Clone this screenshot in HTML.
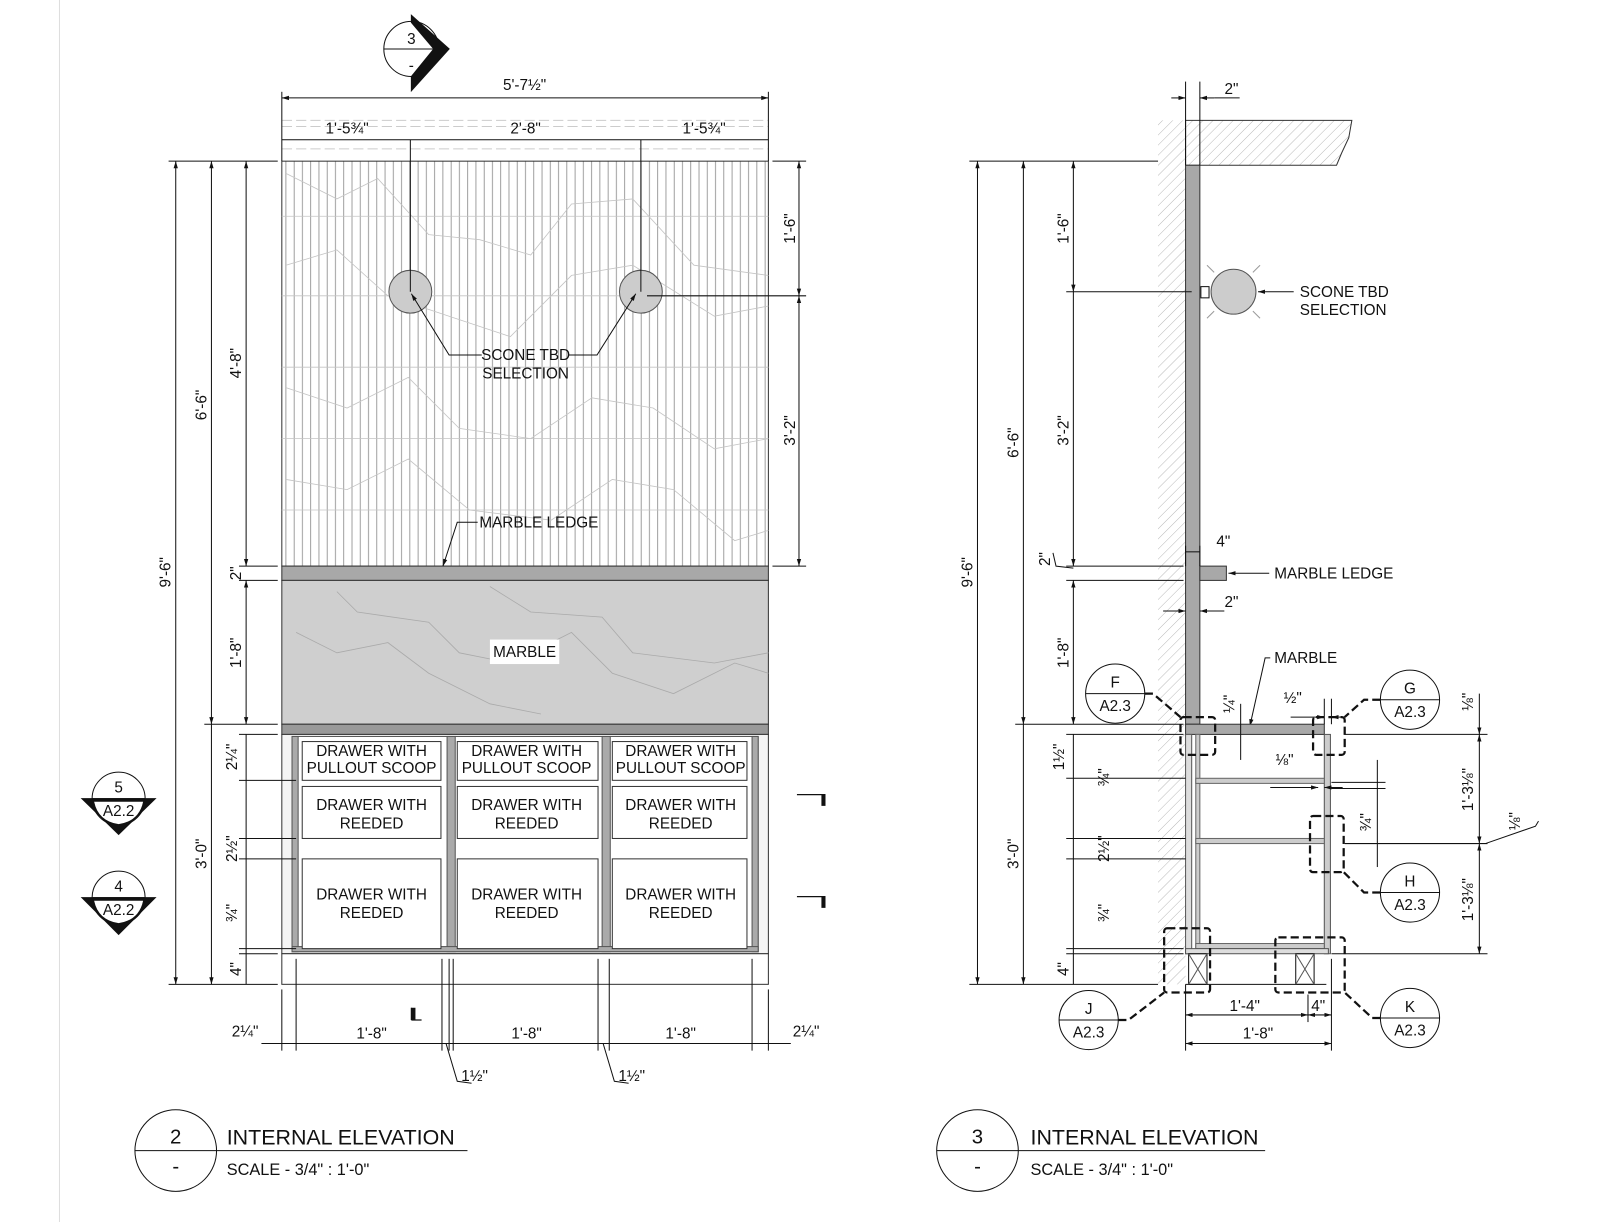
<!DOCTYPE html>
<html><head><meta charset="utf-8"><style>html,body{margin:0;padding:0;background:#fff}svg{display:block}text{font-family:"Liberation Sans",sans-serif;fill:#111}</style></head><body>
<svg width="1600" height="1222" viewBox="0 0 1568 1198" xmlns="http://www.w3.org/2000/svg">
<defs>
<pattern id="reed" width="8.1" height="40" patternUnits="userSpaceOnUse" x="276"><line x1="4" y1="0" x2="4" y2="40" stroke="#888" stroke-width="0.8"/></pattern>
<pattern id="hatch" width="7" height="7" patternUnits="userSpaceOnUse" patternTransform="rotate(45)"><line x1="0" y1="0" x2="0" y2="7" stroke="#aaa" stroke-width="0.8"/></pattern>
<marker id="a" viewBox="0 0 10 10" refX="10" refY="5" markerWidth="7" markerHeight="7" orient="auto-start-reverse"><path d="M0,2 L10,5 L0,8z" fill="#111"/></marker>
</defs>
<line x1="58" y1="0" x2="58" y2="1198" stroke="#ddd"/>
<g stroke="#111" stroke-width="1" fill="none">
<!-- LEFT ELEVATION -->
<rect x="276" y="158" width="477" height="397" fill="url(#reed)" stroke="#333"/>
<g stroke="#c4c4c4" stroke-width="0.8">
<line x1="276" y1="212" x2="753" y2="212"/><line x1="276" y1="290" x2="753" y2="290"/><line x1="276" y1="360" x2="753" y2="360"/><line x1="276" y1="430" x2="753" y2="430"/><line x1="276" y1="500" x2="753" y2="500"/>
<polyline points="280,170 330,195 370,175 420,230 470,235 520,250 560,200 620,195 680,260 753,270"/>
<polyline points="280,260 330,245 380,290 440,310 500,330 560,270 620,260 700,310 753,300"/>
<polyline points="280,380 340,400 400,370 450,420 520,430 580,390 640,400 700,440 753,430"/>
<polyline points="280,470 340,480 400,450 460,500 540,510 600,470 660,480 720,530 753,520"/>
</g>
<g stroke="#ccc" stroke-dasharray="10,4"><line x1="276" y1="118" x2="753" y2="118"/><line x1="276" y1="124" x2="753" y2="124"/><line x1="276" y1="146" x2="753" y2="146"/></g>
<rect x="276" y="555" width="477" height="14" fill="#a8a8a8" stroke="#333"/>
<rect x="276" y="569" width="477" height="141" fill="#cfcfcf" stroke="#333"/>
<g stroke="#aaa" stroke-width="0.8"><polyline points="330,580 350,600 420,610 450,640 500,650 560,620 600,660 660,680 720,650 753,660"/><polyline points="290,620 330,640 380,630 420,660 480,690 530,700"/><polyline points="480,575 520,600 590,605 620,640 700,650 753,640"/></g>
<rect x="480" y="627" width="68" height="24" fill="#fff" stroke="none"/>
<rect x="276" y="710" width="477" height="10" fill="#999" stroke="#333"/>
<rect x="276" y="720" width="477" height="215" fill="#f4f4f4" stroke="#333"/>
<rect x="286" y="722" width="457" height="211" fill="#fff" stroke="#555"/>
<g fill="#aaa" stroke="#555"><rect x="286" y="722" width="6" height="211"/><rect x="438" y="722" width="8" height="211"/><rect x="590" y="722" width="8" height="211"/><rect x="737" y="722" width="6" height="211"/><rect x="286" y="928" width="457" height="5"/></g>
<g fill="#fff" stroke="#333">
<rect x="296" y="727" width="136" height="38"/><rect x="448" y="727" width="138" height="38"/><rect x="600" y="727" width="132" height="38"/>
<rect x="296" y="771" width="136" height="51"/><rect x="448" y="771" width="138" height="51"/><rect x="600" y="771" width="132" height="51"/>
<rect x="296" y="842" width="136" height="88"/><rect x="448" y="842" width="138" height="88"/><rect x="600" y="842" width="132" height="88"/>
</g>
<rect x="276" y="935" width="477" height="30" fill="#fff" stroke="#333"/>
<circle cx="402" cy="286" r="21" fill="#ccc" stroke="#555"/><circle cx="628" cy="286" r="21" fill="#ccc" stroke="#555"/>
<line x1="402" y1="137" x2="402" y2="286"/><line x1="628" y1="137" x2="628" y2="286"/>
<line x1="634" y1="290" x2="790" y2="290"/>
<polyline points="472,348 440,348 403,288" marker-end="url(#a)"/>
<polyline points="557,348 585,348 623,288" marker-end="url(#a)"/>
<polyline points="468,512 448,512 434,555" marker-end="url(#a)"/>
<!-- dims left -->
<line x1="276" y1="96" x2="753" y2="96" marker-start="url(#a)" marker-end="url(#a)"/>
<line x1="276" y1="90" x2="276" y2="158"/><line x1="753" y1="90" x2="753" y2="158"/>
<line x1="276" y1="137" x2="753" y2="137"/>
<line x1="165" y1="158" x2="272" y2="158"/><line x1="165" y1="965" x2="272" y2="965"/>
<line x1="172" y1="158" x2="172" y2="965" marker-start="url(#a)" marker-end="url(#a)"/>
<line x1="207" y1="158" x2="207" y2="710" marker-start="url(#a)" marker-end="url(#a)"/>
<line x1="207" y1="710" x2="207" y2="965" marker-end="url(#a)"/>
<line x1="241" y1="158" x2="241" y2="555" marker-start="url(#a)" marker-end="url(#a)"/>
<line x1="241" y1="569" x2="241" y2="710" marker-start="url(#a)" marker-end="url(#a)"/>
<line x1="241" y1="720" x2="241" y2="965"/>
<g><line x1="234" y1="555" x2="272" y2="555"/><line x1="234" y1="569" x2="272" y2="569"/><line x1="200" y1="710" x2="272" y2="710"/><line x1="234" y1="720" x2="272" y2="720"/><line x1="234" y1="765" x2="290" y2="765"/><line x1="234" y1="822" x2="290" y2="822"/><line x1="234" y1="842" x2="290" y2="842"/><line x1="234" y1="930" x2="290" y2="930"/><line x1="234" y1="935" x2="272" y2="935"/></g>
<line x1="757" y1="158" x2="790" y2="158"/><line x1="757" y1="555" x2="790" y2="555"/>
<line x1="783" y1="158" x2="783" y2="290" marker-start="url(#a)" marker-end="url(#a)"/>
<line x1="783" y1="290" x2="783" y2="555" marker-start="url(#a)" marker-end="url(#a)"/>
<line x1="256" y1="1023" x2="775" y2="1023"/>
<g><line x1="276" y1="970" x2="276" y2="1030"/><line x1="290" y1="940" x2="290" y2="1030"/><line x1="440" y1="940" x2="440" y2="1030"/><line x1="444" y1="940" x2="444" y2="1030"/><line x1="433" y1="940" x2="433" y2="1030"/><line x1="586" y1="940" x2="586" y2="1030"/><line x1="597" y1="940" x2="597" y2="1030"/><line x1="737" y1="940" x2="737" y2="1030"/><line x1="753" y1="970" x2="753" y2="1030"/></g>
<polyline points="437,1023 448,1060 462,1062"/><polyline points="591,1023 602,1060 616,1062"/>
<path d="M781 779 H809 M781 879 H809 M403 1000 H413 M403 988 V1000" stroke-width="1.2"/>
<path d="M807 779 v11 M807 879 v11 M405 988 v12" stroke-width="4"/>
<!-- markers -->
<circle cx="403" cy="48" r="27"/><line x1="376" y1="48" x2="430" y2="48"/>
<path d="M403 15 L440 48 L403 89 L403 75 L425 48 L403 22z" fill="#111"/>
<circle cx="116" cy="783" r="26"/><line x1="90" y1="783" x2="142" y2="783"/>
<path d="M80 783 H152 L116 818z" fill="#111"/><path d="M92 786 H140 Q136 805 116 808 Q96 805 92 786z" fill="#fff" stroke="none"/>
<circle cx="116" cy="880" r="26"/><line x1="90" y1="880" x2="142" y2="880"/>
<path d="M80 880 H152 L116 916z" fill="#111"/><path d="M92 883 H140 Q136 902 116 905 Q96 902 92 883z" fill="#fff" stroke="none"/>
<circle cx="172" cy="1128" r="40"/><line x1="132" y1="1128" x2="458" y2="1128"/>
<circle cx="958" cy="1128" r="40"/><line x1="918" y1="1128" x2="1240" y2="1128"/>
<!-- RIGHT SECTION -->
<rect x="1135" y="118" width="27" height="847" fill="url(#hatch)" stroke="none"/>
<path d="M1162 118 H1325 L1322 135 L1315 150 L1310 162 H1162z" fill="url(#hatch)" stroke="#333"/>
<rect x="1162" y="162" width="14" height="548" fill="#a8a8a8" stroke="#333"/>
<line x1="1162" y1="80" x2="1162" y2="162"/><line x1="1176" y1="80" x2="1176" y2="162"/>
<line x1="1148" y1="96" x2="1162" y2="96" marker-end="url(#a)"/><line x1="1190" y1="96" x2="1176" y2="96" marker-end="url(#a)"/><line x1="1190" y1="96" x2="1215" y2="96"/>
<line x1="950" y1="158" x2="1135" y2="158"/>
<circle cx="1209" cy="286" r="22" fill="#ccc" stroke="#555"/><rect x="1177" y="281" width="8" height="11" fill="#fff"/>
<g stroke="#999"><line x1="1190" y1="267" x2="1183" y2="260"/><line x1="1228" y1="267" x2="1235" y2="260"/><line x1="1190" y1="305" x2="1183" y2="312"/><line x1="1228" y1="305" x2="1235" y2="312"/></g>
<line x1="1268" y1="286" x2="1233" y2="286" marker-end="url(#a)"/>
<line x1="1045" y1="286" x2="1168" y2="286"/>
<rect x="1176" y="555" width="26" height="14" fill="#a8a8a8" stroke="#333"/>
<line x1="1244" y1="562" x2="1204" y2="562" marker-end="url(#a)"/>
<line x1="1045" y1="555" x2="1160" y2="555"/><line x1="1045" y1="569" x2="1160" y2="569"/>
<line x1="1162" y1="541" x2="1176" y2="541"/><line x1="1176" y1="535" x2="1176" y2="555"/><line x1="1162" y1="535" x2="1162" y2="555"/>
<line x1="1140" y1="599" x2="1162" y2="599" marker-end="url(#a)"/><line x1="1200" y1="599" x2="1176" y2="599" marker-end="url(#a)"/>
<polyline points="1245,645 1240,645 1225,712" marker-end="url(#a)"/>
<!-- cabinet -->
<rect x="1162" y="710" width="136" height="10" fill="#a8a8a8" stroke="#333"/>
<rect x="1162" y="720" width="6" height="215" fill="#ddd" stroke="#555"/>
<rect x="1298" y="720" width="6" height="215" fill="#ccc" stroke="#555"/>
<rect x="1172" y="720" width="4" height="210" fill="#ccc" stroke="#666"/>
<rect x="1172" y="763" width="126" height="5" fill="#ccc" stroke="#666"/>
<rect x="1172" y="822" width="126" height="5" fill="#ccc" stroke="#666"/>
<rect x="1172" y="925" width="126" height="5" fill="#ccc" stroke="#666"/>
<rect x="1162" y="930" width="140" height="5" fill="#ddd" stroke="#555"/>
<line x1="1162" y1="965" x2="1300" y2="965"/>
<rect x="1165" y="935" width="18" height="30"/><path d="M1165 935 L1183 965 M1183 935 L1165 965" stroke="#555"/>
<rect x="1270" y="935" width="18" height="30"/><path d="M1270 935 L1288 965 M1288 935 L1270 965" stroke="#555"/>
<g stroke-width="2.2" stroke-dasharray="8,4">
<rect x="1157" y="703" width="34" height="37" rx="3"/><rect x="1287" y="703" width="31" height="37" rx="3"/>
<rect x="1284" y="800" width="33" height="55" rx="3"/><rect x="1141" y="910" width="45" height="63" rx="3"/><rect x="1250" y="919" width="68" height="54" rx="3"/>
<polyline points="1122,680 1130,680 1157,703"/><polyline points="1353,686 1337,686 1318,703"/>
<polyline points="1353,875 1337,875 1317,855"/><polyline points="1096,1000 1106,1000 1141,973"/><polyline points="1353,998 1345,998 1318,973"/>
</g>
<circle cx="1093" cy="680" r="29"/><line x1="1064" y1="680" x2="1122" y2="680"/>
<circle cx="1382" cy="686" r="29"/><line x1="1353" y1="686" x2="1411" y2="686"/>
<circle cx="1382" cy="875" r="29"/><line x1="1353" y1="875" x2="1411" y2="875"/>
<circle cx="1067" cy="1000" r="29"/><line x1="1038" y1="1000" x2="1096" y2="1000"/>
<circle cx="1382" cy="998" r="29"/><line x1="1353" y1="998" x2="1411" y2="998"/>
<!-- right dims -->
<line x1="950" y1="965" x2="1135" y2="965"/>
<line x1="958" y1="158" x2="958" y2="965" marker-start="url(#a)" marker-end="url(#a)"/>
<line x1="1003" y1="158" x2="1003" y2="710" marker-start="url(#a)" marker-end="url(#a)"/>
<line x1="1003" y1="710" x2="1003" y2="965" marker-end="url(#a)"/>
<line x1="1052" y1="158" x2="1052" y2="286" marker-start="url(#a)" marker-end="url(#a)"/>
<line x1="1052" y1="286" x2="1052" y2="555" marker-end="url(#a)"/>
<line x1="1052" y1="569" x2="1052" y2="710" marker-start="url(#a)" marker-end="url(#a)"/>
<line x1="1052" y1="720" x2="1052" y2="965"/>
<g><line x1="995" y1="710" x2="1160" y2="710"/><line x1="1045" y1="720" x2="1160" y2="720"/><line x1="1045" y1="763" x2="1162" y2="763"/><line x1="1045" y1="822" x2="1162" y2="822"/><line x1="1045" y1="842" x2="1162" y2="842"/><line x1="1045" y1="930" x2="1160" y2="930"/><line x1="1045" y1="935" x2="1160" y2="935"/></g>
<polyline points="1032,542 1035,555 1052,557"/>
<line x1="1216" y1="690" x2="1216" y2="745"/>
<line x1="1265" y1="703" x2="1298" y2="703" marker-end="url(#a)"/><line x1="1318" y1="703" x2="1305" y2="703" marker-end="url(#a)"/><line x1="1298" y1="685" x2="1298" y2="710"/><line x1="1305" y1="685" x2="1305" y2="710"/>
<line x1="1245" y1="772" x2="1292" y2="772" marker-end="url(#a)"/><line x1="1316" y1="772" x2="1298" y2="772" marker-end="url(#a)"/>
<line x1="1305" y1="767" x2="1358" y2="767"/><line x1="1305" y1="773" x2="1358" y2="773"/>
<line x1="1350" y1="745" x2="1350" y2="850"/>
<line x1="1318" y1="720" x2="1458" y2="720"/><line x1="1318" y1="827" x2="1458" y2="827"/><line x1="1305" y1="935" x2="1458" y2="935"/>
<line x1="1450" y1="680" x2="1450" y2="720" marker-end="url(#a)"/>
<line x1="1450" y1="720" x2="1450" y2="827" marker-start="url(#a)" marker-end="url(#a)"/>
<line x1="1450" y1="827" x2="1450" y2="935" marker-start="url(#a)" marker-end="url(#a)"/>
<polyline points="1456,827 1505,810 1508,805"/>
<line x1="1162" y1="965" x2="1162" y2="1030"/><line x1="1305" y1="940" x2="1305" y2="1030"/><line x1="1282" y1="975" x2="1282" y2="1002"/>
<line x1="1162" y1="995" x2="1282" y2="995" marker-start="url(#a)" marker-end="url(#a)"/>
<line x1="1282" y1="995" x2="1305" y2="995" marker-start="url(#a)" marker-end="url(#a)"/>
<line x1="1162" y1="1023" x2="1305" y2="1023" marker-start="url(#a)" marker-end="url(#a)"/>
</g>
<!-- TEXT -->
<g font-size="15" text-anchor="middle">
<text x="403" y="43">3</text><text x="403" y="69">-</text>
<text x="116" y="777">5</text><text x="116" y="800">A2.2</text>
<text x="116" y="874">4</text><text x="116" y="897">A2.2</text>
<text x="514" y="88">5'-7½"</text>
<text x="340" y="131">1'-5¾"</text><text x="515" y="131">2'-8"</text><text x="690" y="131">1'-5¾"</text>
<text x="515" y="353">SCONE TBD</text><text x="515" y="371">SELECTION</text>
<text x="528" y="517">MARBLE LEDGE</text>
<text x="514" y="644">MARBLE</text>
<text x="364" y="741">DRAWER WITH</text><text x="364" y="758">PULLOUT SCOOP</text><text x="516" y="741">DRAWER WITH</text><text x="516" y="758">PULLOUT SCOOP</text><text x="667" y="741">DRAWER WITH</text><text x="667" y="758">PULLOUT SCOOP</text>
<text x="364" y="794">DRAWER WITH</text><text x="364" y="812">REEDED</text><text x="516" y="794">DRAWER WITH</text><text x="516" y="812">REEDED</text><text x="667" y="794">DRAWER WITH</text><text x="667" y="812">REEDED</text>
<text x="364" y="882">DRAWER WITH</text><text x="364" y="900">REEDED</text><text x="516" y="882">DRAWER WITH</text><text x="516" y="900">REEDED</text><text x="667" y="882">DRAWER WITH</text><text x="667" y="900">REEDED</text>
<text x="240" y="1016">2¼"</text><text x="364" y="1018">1'-8"</text><text x="516" y="1018">1'-8"</text><text x="667" y="1018">1'-8"</text><text x="790" y="1016">2¼"</text>
<text x="465" y="1060">1½"</text><text x="619" y="1060">1½"</text>
<text x="1207" y="92">2"</text>
<text x="1199" y="536">4"</text><text x="1207" y="595">2"</text>
<text x="1093" y="674">F</text><text x="1093" y="697">A2.3</text>
<text x="1382" y="680">G</text><text x="1382" y="703">A2.3</text>
<text x="1382" y="869">H</text><text x="1382" y="892">A2.3</text>
<text x="1067" y="994">J</text><text x="1067" y="1017">A2.3</text>
<text x="1382" y="992">K</text><text x="1382" y="1015">A2.3</text>
<text x="1220" y="991">1'-4"</text><text x="1292" y="991">4"</text><text x="1233" y="1018">1'-8"</text>
<text x="1267" y="689">½"</text><text x="1259" y="750">⅛"</text>
</g>
<g font-size="15">
<text x="1274" y="291">SCONE TBD</text><text x="1274" y="309">SELECTION</text>
<text x="1249" y="567">MARBLE LEDGE</text><text x="1249" y="650">MARBLE</text>
</g>
<g font-size="15" text-anchor="middle">
<text transform="translate(167,561) rotate(-90)">9'-6"</text>
<text transform="translate(202,397) rotate(-90)">6'-6"</text>
<text transform="translate(236,356) rotate(-90)">4'-8"</text>
<text transform="translate(236,562) rotate(-90)">2"</text>
<text transform="translate(236,640) rotate(-90)">1'-8"</text>
<text transform="translate(202,837) rotate(-90)">3'-0"</text>
<text transform="translate(232,742) rotate(-90)">2¼"</text>
<text transform="translate(232,832) rotate(-90)">2½"</text>
<text transform="translate(232,895) rotate(-90)">¾"</text>
<text transform="translate(236,950) rotate(-90)">4"</text>
<text transform="translate(779,224) rotate(-90)">1'-6"</text>
<text transform="translate(779,422) rotate(-90)">3'-2"</text>
<text transform="translate(953,561) rotate(-90)">9'-6"</text>
<text transform="translate(998,434) rotate(-90)">6'-6"</text>
<text transform="translate(998,837) rotate(-90)">3'-0"</text>
<text transform="translate(1047,224) rotate(-90)">1'-6"</text>
<text transform="translate(1047,422) rotate(-90)">3'-2"</text>
<text transform="translate(1029,548) rotate(-90)">2"</text>
<text transform="translate(1047,640) rotate(-90)">1'-8"</text>
<text transform="translate(1043,742) rotate(-90)">1½"</text>
<text transform="translate(1087,762) rotate(-90)">¾"</text>
<text transform="translate(1087,832) rotate(-90)">2½"</text>
<text transform="translate(1087,895) rotate(-90)">¾"</text>
<text transform="translate(1047,950) rotate(-90)">4"</text>
<text transform="translate(1210,690) rotate(-90)">¼"</text>
<text transform="translate(1344,806) rotate(-90)">¾"</text>
<text transform="translate(1444,688) rotate(-90)">⅛"</text>
<text transform="translate(1444,774) rotate(-90)">1'-3⅛"</text>
<text transform="translate(1444,882) rotate(-90)">1'-3⅛"</text>
<text transform="translate(1490,805) rotate(-90)">⅛"</text>
</g>
<g font-size="20" text-anchor="middle"><text x="172" y="1121">2</text><text x="172" y="1150">-</text><text x="958" y="1121">3</text><text x="958" y="1150">-</text></g>
<g font-size="21"><text x="222" y="1122">INTERNAL ELEVATION</text><text x="1010" y="1122">INTERNAL ELEVATION</text></g>
<g font-size="16"><text x="222" y="1152">SCALE - 3/4" : 1'-0"</text><text x="1010" y="1152">SCALE - 3/4" : 1'-0"</text></g>
</svg>
</body></html>
